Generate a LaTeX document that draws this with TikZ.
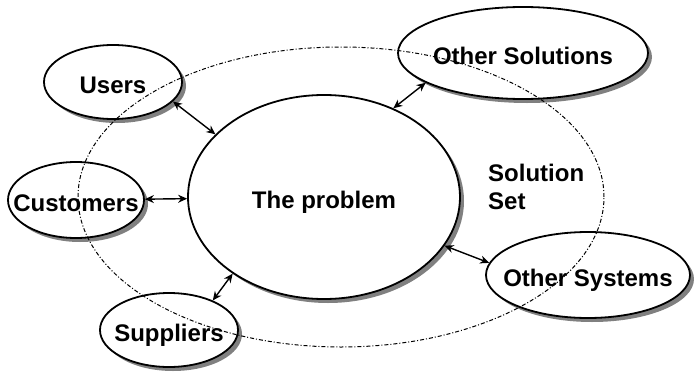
\documentclass[tikz,border=0pt]{standalone}
\usepackage{fontspec}
\setmainfont{Liberation Sans}
\usetikzlibrary{shapes.geometric,shadows,arrows.meta}
\begin{document}
\begin{tikzpicture}[
    x=1pt, y=-1pt,
    every node/.style={font=\fontsize{24}{28}\selectfont\bfseries},
    actor/.style={draw, ellipse, line width=1.8pt, fill=white, inner sep=0pt,
        text height=22.5pt, text depth=0pt,
        execute at begin node={\hbox to 0pt\bgroup\hss},
        execute at end node={\hss\egroup},
        drop shadow={shadow xshift=4pt, shadow yshift=-4pt, fill=gray, opacity=1}},
    link/.style={{Stealth[length=9pt,width=8pt]}-{Stealth[length=9pt,width=8pt]}, line width=1.4pt},
    solset/.style={draw, ellipse, inner sep=0pt, line width=1pt,
        dash pattern=on 4pt off 2pt on 1pt off 2pt}
]
\useasboundingbox (0,0) rectangle (694,375);
\node[actor, minimum width=272pt, minimum height=204pt] (problem) at (324,197) {The problem};
\node[actor, minimum width=138pt, minimum height=74pt] (users) at (113,82) {Users};
\node[actor, minimum width=136pt, minimum height=76pt] (customers) at (76,200) {Customers};
\node[actor, minimum width=138pt, minimum height=74pt] (suppliers) at (169,330) {Suppliers};
\node[actor, minimum width=250pt, minimum height=92pt] (solutions) at (523,53) {Other Solutions};
\node[actor, minimum width=204pt, minimum height=86pt] (systems) at (588,275) {Other Systems};
\node[solset, minimum width=526pt, minimum height=300pt] (set) at (341,197) {};
\node[align=left, anchor=north west, inner sep=0pt] (settext) at (488,164) {Solution\\Set};

\draw[link] (users.-18) -- (problem.150);
\draw[link] (customers) -- (problem);
\draw[link] (suppliers.34) -- (problem.220);
\draw[link] (solutions.-163) -- (problem.52);
\draw[link] (systems.173) -- (problem.-22.5);
\end{tikzpicture}
\end{document}
